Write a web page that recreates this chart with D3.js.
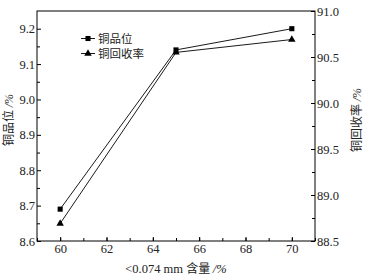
<!DOCTYPE html>
<html><head><meta charset="utf-8">
<script src="https://cdn.jsdelivr.net/npm/d3@7"></script>
<style>body{margin:0;background:#fff;}svg{display:block;}
.serif{font-family:"Liberation Serif","Times New Roman",serif;}
.cjk{font-family:"Noto Sans CJK SC",sans-serif;}
</style>
</head><body>
<svg id="c" width="367" height="279"></svg>
<script>
const xValues = [60, 65, 70];
const gradeValues = [8.69, 9.14, 9.20];
const recoveryValues = [88.69, 90.55, 90.69];
const xTicks = [60, 62, 64, 66, 68, 70];
const leftTicks = [8.6, 8.7, 8.8, 8.9, 9.0, 9.1, 9.2];
const rightTicks = [88.5, 89.0, 89.5, 90.0, 90.5, 91.0];
const seriesNames = ["铜品位", "铜回收率"];

const svg = d3.select("#c");
const L = 37, R = 315, T = 11, B = 241;
const x = d3.scaleLinear().domain([59, 71]).range([L, R]);
const yL = d3.scaleLinear().domain([8.6, 9.25]).range([B, T]);
const yR = d3.scaleLinear().domain([88.5, 91.0]).range([B, T]);

// frame
svg.append("rect").attr("x", L).attr("y", T).attr("width", R - L).attr("height", B - T)
  .attr("fill", "none").attr("stroke", "#000").attr("stroke-width", 1);

function styleAxis(g) {
  g.attr("font-family", null);
  g.select(".domain").remove();
  g.selectAll("line").attr("stroke", "#000");
  g.selectAll("text").attr("class", "serif").attr("font-size", 12.5).attr("fill", "#222");
}
// bottom axis (ticks inward)
const xMinor = d3.range(59, 72, 1);
svg.append("g").attr("transform", `translate(0,${B})`)
  .call(d3.axisBottom(x).tickValues(xMinor).tickSize(-3).tickFormat(""))
  .call(styleAxis);
svg.append("g").attr("transform", `translate(0,${B})`)
  .call(d3.axisBottom(x).tickValues(xTicks).tickSize(-4).tickPadding(3).tickFormat(d3.format("d")))
  .call(styleAxis);
// left axis
svg.append("g").attr("transform", `translate(${L},0)`)
  .call(d3.axisLeft(yL).tickValues(d3.range(8.65, 9.25, 0.1)).tickSize(-3).tickFormat(""))
  .call(styleAxis);
svg.append("g").attr("transform", `translate(${L},0)`)
  .call(d3.axisLeft(yL).tickValues(leftTicks).tickSize(-4).tickPadding(2).tickFormat(d3.format(".1f")))
  .call(styleAxis);
// right axis
svg.append("g").attr("transform", `translate(${R},0)`)
  .call(d3.axisRight(yR).tickValues(d3.range(88.75, 91, 0.5)).tickSize(-3).tickFormat(""))
  .call(styleAxis);
svg.append("g").attr("transform", `translate(${R},0)`)
  .call(d3.axisRight(yR).tickValues(rightTicks).tickSize(-4).tickPadding(2).tickFormat(d3.format(".1f")))
  .call(styleAxis);

// axis titles
const xt = svg.append("text").attr("x", 176).attr("y", 273).attr("text-anchor", "middle")
  .attr("font-size", 12.5).attr("fill", "#222");
xt.append("tspan").attr("class", "serif").text("<0.074 mm ");
xt.append("tspan").attr("class", "cjk").attr("font-size", 12).text("含量 ");
xt.append("tspan").attr("class", "serif").attr("font-style", "italic").text("/%");

const lt = svg.append("text").attr("transform", "translate(13,120) rotate(-90)")
  .attr("text-anchor", "middle").attr("font-size", 12).attr("fill", "#222");
lt.append("tspan").attr("class", "cjk").text("铜品位 ");
lt.append("tspan").attr("class", "serif").attr("font-style", "italic").text("/%");

const rt = svg.append("text").attr("transform", "translate(361,120) rotate(-90)")
  .attr("text-anchor", "middle").attr("font-size", 12).attr("fill", "#222");
rt.append("tspan").attr("class", "cjk").text("铜回收率 ");
rt.append("tspan").attr("class", "serif").attr("font-style", "italic").text("/%");

// series
const line1 = d3.line().x((d, i) => x(xValues[i])).y(d => yL(d));
const line2 = d3.line().x((d, i) => x(xValues[i])).y(d => yR(d));
svg.append("path").attr("d", line1(gradeValues)).attr("fill", "none").attr("stroke", "#000").attr("stroke-width", 0.9);
svg.append("path").attr("d", line2(recoveryValues)).attr("fill", "none").attr("stroke", "#000").attr("stroke-width", 0.9);
const sq = d3.symbol().type(d3.symbolSquare).size(26);
const tri = d3.symbol().type(d3.symbolTriangle).size(24);
svg.selectAll(".sq").data(gradeValues).enter().append("path")
  .attr("d", sq).attr("transform", (d, i) => `translate(${x(xValues[i])},${yL(d)})`).attr("fill", "#000");
svg.selectAll(".tr").data(recoveryValues).enter().append("path")
  .attr("d", tri).attr("transform", (d, i) => `translate(${x(xValues[i])},${yR(d)})`).attr("fill", "#000");

// legend
const lg = svg.append("g");
[0, 1].forEach(i => {
  const yy = 38.5 + i * 15;
  lg.append("line").attr("x1", 81).attr("x2", 95).attr("y1", yy).attr("y2", yy).attr("stroke", "#000").attr("stroke-width", 0.9);
  lg.append("path").attr("d", i === 0 ? sq() : tri()).attr("transform", `translate(88,${yy})`).attr("fill", "#000");
  lg.append("text").attr("x", 98).attr("y", yy + 4.2).attr("class", "cjk").attr("font-size", 11.5)
    .attr("fill", "#222").text(seriesNames[i]);
});
</script>
</body></html>
